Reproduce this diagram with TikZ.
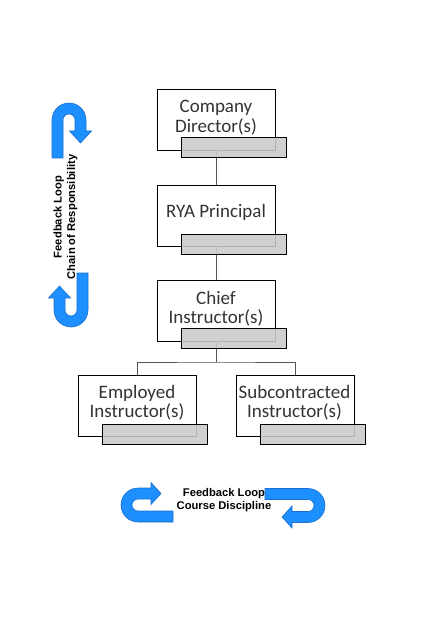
\documentclass[tikz,border=0pt]{standalone}
\usepackage{fontspec}
\setmainfont{Carlito}
\newfontfamily\arialfont{Liberation Sans}
\definecolor{tabgray}{HTML}{CACACA}
\definecolor{txtgray}{HTML}{333333}
\definecolor{linegray}{HTML}{555555}
\definecolor{ublue}{HTML}{1E8FFF}
\definecolor{uedge}{HTML}{1A6FD0}
% U-turn arrow: centre x, centre y, rotation, straight leg, arrow leg, head length
\newcommand\uturnarrow[6]{%
  \begin{scope}[shift={(#1,#2)},rotate=#3]
    \draw[uarrow] (-17,#4) -- (-17,0)
      .. controls (-17,-9.39) and (-9.39,-17) .. (0,-17)
      .. controls (9.39,-17) and (17,-9.39) .. (17,0)
      -- (17,#5) -- (22.5,#5) -- (11.5,#5+#6) -- (0.5,#5) -- (6,#5) -- (6,0)
      .. controls (6,-3.31) and (3.31,-6) .. (0,-6)
      .. controls (-3.31,-6) and (-6,-3.31) .. (-6,0)
      -- (-6,#4) -- cycle;
  \end{scope}}
\begin{document}
\begin{tikzpicture}[x=1pt,y=-1pt,
  box/.style={draw=black,line width=0.8pt,fill=white,minimum width=118pt,minimum height=61pt,inner sep=0pt},
  tab/.style={draw=black,line width=0.8pt,fill=tabgray,fill opacity=0.88,minimum width=105pt,minimum height=20pt,inner sep=0pt},
  lbl/.style={font=\fontsize{19}{19.5}\selectfont,text=txtgray,align=center,inner sep=0pt},
  conn/.style={draw=linegray,line width=0.8pt},
  uarrow/.style={fill=ublue,draw=uedge,line width=0.6pt,line join=miter},
  fb/.style={font=\arialfont\bfseries\fontsize{11.2}{13.5}\selectfont,align=center,inner sep=0pt}
]
\useasboundingbox (0,0) rectangle (437,620);

% white boxes
\node[box] (cd)  at (216,119.5) {};
\node[box] (rya) at (216,216) {};
\node[box] (ci)  at (216,310.5) {};
\node[box] (emp) at (137,406) {};
\node[box] (sub) at (295,406) {};

% connectors
\coordinate (branch) at (216,362);
\draw[conn] (cd.south) -- (rya.north);
\draw[conn] (rya.south) -- (ci.north);
\draw[conn] (ci.south) -- (branch);
\draw[conn] (emp.north) |- (branch) -| (sub.north);

% grey tabs
\node[tab] (cdtab)  at ([shift={(17.5,-3)}]cd.south) {};
\node[tab] (ryatab) at ([shift={(17.5,-3)}]rya.south) {};
\node[tab] (citab)  at ([shift={(17.5,-3)}]ci.south) {};
\node[tab] (emptab) at ([shift={(17.5,-3)}]emp.south) {};
\node[tab] (subtab) at ([shift={(17.5,-3)}]sub.south) {};

% labels
\node[lbl] (cdt)  at (216,117.5) {Company\\Director(s)};
\node[lbl] (ryat) at (216,212) {RYA Principal};
\node[lbl] (cit)  at (216,308.5) {Chief\\Instructor(s)};
\node[lbl] (empt) at (137,402.5) {Employed\\Instructor(s)};
\node[lbl] (subt) at (294.5,402.5) {Subcontracted\\Instructor(s)};

% feedback loops
\uturnarrow{69}{120}{0}{38}{11}{12}
\uturnarrow{71}{310}{180}{37}{12}{12}
\node[fb,rotate=90] (fbv) at (65.5,217) {Feedback Loop\\Chain of Responsibility};

\uturnarrow{138}{505}{90}{35}{13}{10}
\uturnarrow{308}{505.5}{-90}{43}{16}{10}
\node[fb] (fbh) at (224,500) {Feedback Loop\\Course Discipline};
\end{tikzpicture}
\end{document}
